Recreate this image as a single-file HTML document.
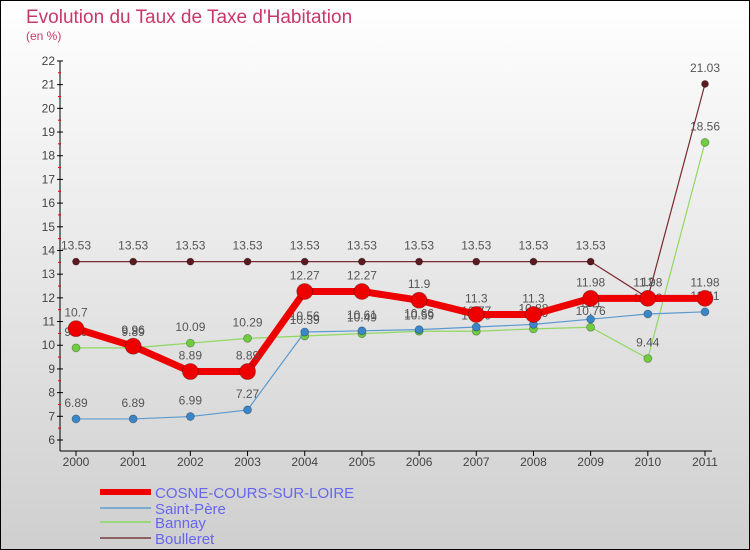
<!DOCTYPE html>
<html><head><meta charset="utf-8"><style>
body{margin:0}
svg{display:block;font-family:"Liberation Sans",sans-serif}
</style></head><body>
<svg id="c" width="750" height="550" xmlns="http://www.w3.org/2000/svg">
<defs><linearGradient id="bg" x1="0" y1="0" x2="0" y2="1"><stop offset="0" stop-color="#ffffff"/><stop offset="1" stop-color="#cfcfcf"/></linearGradient></defs>
<rect x="0.5" y="0.5" width="749" height="549" fill="url(#bg)" stroke="#000"/>
<text x="26" y="23" font-size="19" fill="#c8386a">Evolution du Taux de Taxe d'Habitation</text>
<text x="26" y="40" font-size="12" fill="#c8386a">(en %)</text>
<g id="axes"></g><g id="series"></g><g id="legend"></g>
</svg>
<script>
const years=["2000","2001","2002","2003","2004","2005","2006","2007","2008","2009","2010","2011"];
const yTicks=[6,7,8,9,10,11,12,13,14,15,16,17,18,19,20,21,22];
const cosne=[10.7,9.96,8.89,8.89,12.27,12.27,11.9,11.3,11.3,11.98,11.98,11.98];
const saintPere=[6.89,6.89,6.99,7.27,10.56,10.61,10.66,10.77,10.88,11.1,11.32,11.41];
const bannay=[9.89,9.89,10.09,10.29,10.39,10.49,10.59,10.59,10.69,10.76,9.44,18.56];
const boulleret=[13.53,13.53,13.53,13.53,13.53,13.53,13.53,13.53,13.53,13.53,12,21.03];
const names=["COSNE-COURS-SUR-LOIRE","Saint-Père","Bannay","Boulleret"];
const NS="http://www.w3.org/2000/svg";
const xs=i=>76+i*(705-76)/(years.length-1);
const ys=v=>440-(v-6)*23.69;
function mk(t,a,p){const e=document.createElementNS(NS,t);for(const k in a)e.setAttribute(k,a[k]);p.appendChild(e);return e;}
const ax=document.getElementById('axes');
let l=mk('line',{x1:60,y1:ys(22),x2:60,y2:451,stroke:'#000'},ax);


l=mk('line',{x1:60,y1:451,x2:712,y2:451,stroke:'#000'},ax);


yTicks.forEach(v=>{
 mk('line',{x1:57,y1:ys(v),x2:63,y2:ys(v),stroke:'#000'},ax);
 if(v<22) mk('line',{x1:58,y1:ys(v+0.5),x2:61,y2:ys(v+0.5),stroke:'#e00'},ax);
 const t=mk('text',{x:55,y:ys(v)+4,'font-size':12,fill:'#444','text-anchor':'end'},ax);t.textContent=v;
 
 
});
years.forEach((y,i)=>{
 mk('line',{x1:xs(i),y1:451,x2:xs(i),y2:456,stroke:'#000'},ax);
 const t=mk('text',{x:xs(i),y:466,'font-size':12,fill:'#444','text-anchor':'middle'},ax);t.textContent=y;
 
 
});
const sg=document.getElementById('series');
const defs=[[boulleret,'#7a2a30','#5a1a20',1.2,3.5,'boulleret'],[bannay,'#90d860','#70cc40',1.2,4,'bannay'],[saintPere,'#5a9ad0','#3a86c8',1.2,4,'saint-pere'],[cosne,'#ee0000','#ee0000',7,8,'cosne']];
defs.forEach(([d,c,fc,w,r,n])=>{
 const g=mk('g',{},sg);
 
 
 const p=mk('polyline',{points:d.map((v,i)=>xs(i)+','+ys(v)).join(' '),fill:'none',stroke:c,'stroke-width':w,'stroke-linejoin':'round'},g);
 
 
 d.forEach((v,i)=>{
  const ci=mk('circle',{cx:xs(i),cy:ys(v),r:r,fill:fc,stroke:'rgba(0,0,0,0.3)','stroke-width':0.8},g);
  
  
  const t=mk('text',{x:xs(i),y:ys(v)-12,'font-size':12,fill:'#555','text-anchor':'middle'},g);t.textContent=v;
  
  
 });
});
const lg=document.getElementById('legend');
const lc=[['#ee0000',6],['#7aaad0',2],['#98d878',2],['#8a6060',2]];
names.forEach((nm,i)=>{
 const y=[492,508,522,538][i];
 const g=mk('g',{},lg);
 
 
 mk('line',{x1:100,y1:y,x2:151,y2:y,stroke:lc[i][0],'stroke-width':lc[i][1]},g);
 const t=mk('text',{x:155,y:y+6,'font-size':15,fill:'#6666ee'},g);t.textContent=nm;
});
</script>
</body></html>
